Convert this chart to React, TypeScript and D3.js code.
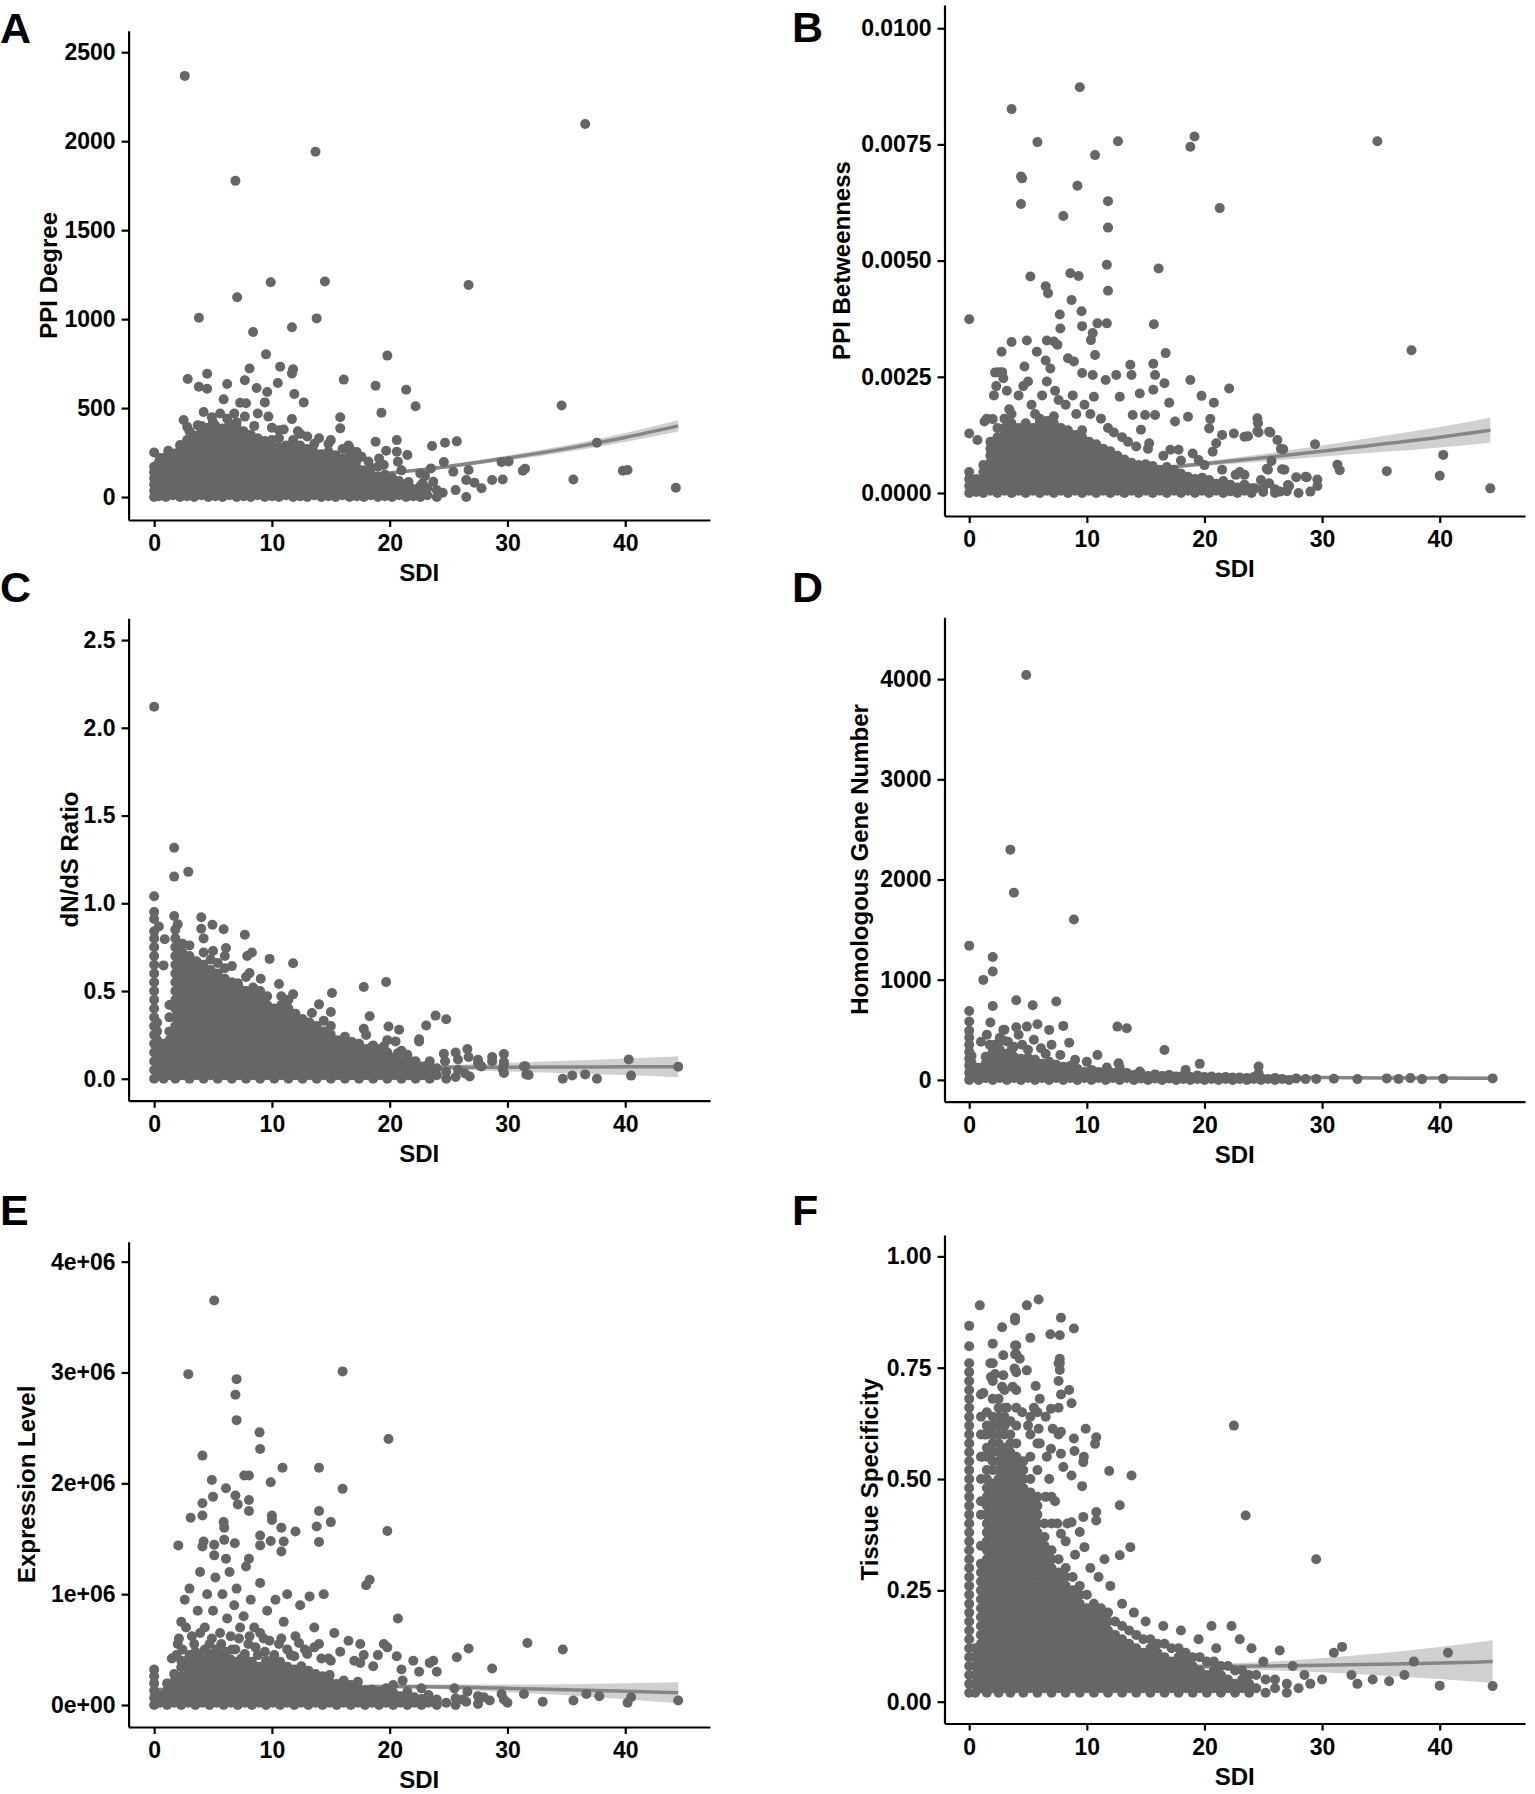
import * as d3 from "d3";
import { useEffect, useRef } from "react";

// shared x axis
const sdiTicks = [0, 10, 20, 30, 40];
const sdiLabels = ["0", "10", "20", "30", "40"];

// ---------- A: PPI Degree ----------
const degreeTicks = [0, 500, 1000, 1500, 2000, 2500];
const degreeLabels = ["0", "500", "1000", "1500", "2000", "2500"];
// dense cloud, one column per SDI value: [sdi, degree, degree, ...]
const degreeCloud = [
  [0, 0, 35, 70, 105, 140, 170, 250],
  [0.4, 5, 45, 85, 125, 165, 195],
  [1.0, 0, 40, 80, 120, 160, 200, 225],
  [1.6, 10, 50, 90, 130, 170, 210, 245],
  [2.2, 0, 40, 80, 120, 160, 200, 240, 265, 292],
  [2.8, 5, 45, 85, 125, 165, 205, 245, 285, 320],
  [3.4, 0, 40, 80, 120, 160, 200, 240, 280, 320, 345],
  [4.0, 10, 50, 90, 130, 170, 210, 250, 290, 330, 365],
  [4.6, 0, 40, 80, 120, 160, 200, 240, 280, 320, 360, 390],
  [5.2, 5, 45, 85, 125, 165, 205, 245, 285, 325, 365, 400],
  [5.8, 0, 40, 80, 120, 160, 200, 240, 280, 320, 360, 385],
  [6.4, 10, 50, 90, 130, 170, 210, 250, 290, 330, 370, 410],
  [7.0, 0, 40, 80, 120, 160, 200, 240, 280, 320, 360, 395],
  [7.6, 5, 45, 85, 125, 165, 205, 245, 285, 325, 370],
  [8.2, 0, 40, 80, 120, 160, 200, 240, 280, 320, 350],
  [8.8, 10, 50, 90, 130, 170, 210, 250, 290, 330],
  [9.4, 0, 40, 80, 120, 160, 200, 240, 280, 315],
  [10.0, 5, 45, 85, 125, 165, 205, 245, 285, 320],
  [10.6, 0, 40, 80, 120, 160, 200, 240, 280, 330, 375],
  [11.2, 10, 50, 90, 130, 170, 210, 250, 290],
  [11.8, 0, 40, 80, 120, 160, 200, 240, 280, 320],
  [12.4, 5, 45, 85, 125, 165, 205, 245, 290, 355],
  [13.0, 0, 40, 80, 120, 160, 200, 240, 270],
  [13.6, 10, 50, 90, 130, 170, 210, 250, 300],
  [14.2, 0, 40, 80, 120, 160, 200, 240],
  [14.8, 5, 45, 85, 125, 165, 205, 255, 300],
  [15.4, 0, 40, 80, 120, 160, 200, 235],
  [16.0, 10, 50, 90, 130, 170, 215, 270],
  [16.6, 0, 40, 80, 120, 160, 195, 240],
  [17.2, 5, 45, 85, 125, 165, 205],
  [17.8, 0, 40, 80, 120, 150],
  [18.4, 10, 50, 90, 130, 165],
  [19.0, 0, 40, 80, 115, 170],
  [19.6, 5, 45, 85, 125],
  [20.2, 0, 40, 80, 110],
  [20.8, 10, 50, 90],
  [21.4, 0, 40, 70],
  [22.0, 5, 45],
  [22.6, 0, 30, 60],
  [23.2, 10, 50],
  [24.0, 0, 40],
];
const degreeOutliers = [
  [2.6, 2367], [36.6, 2097], [13.7, 1941], [6.9, 1777], [9.9, 1207], [14.5, 1211], [26.7, 1192],
  [7.05, 1123], [3.8, 1008], [13.8, 1004], [11.7, 954], [8.4, 928], [9.5, 802], [19.8, 795],
  [8.1, 722], [10.7, 733], [11.8, 718], [11.7, 695], [4.5, 693], [2.85, 663], [6.2, 635],
  [7.7, 656], [10.5, 641], [16.1, 660], [18.8, 626], [21.4, 603], [3.8, 620], [4.5, 609],
  [8.7, 613], [9.6, 590], [11.9, 579], [22.2, 510], [34.6, 515], [12.7, 532], [9.4, 532],
  [7.3, 530], [7.8, 527], [5.9, 549], [5.6, 470], [6.8, 470], [7.7, 452], [8.8, 470],
  [9.7, 452], [11.7, 438], [15.8, 448], [19.3, 474], [15.8, 386], [2.5, 433], [2.8, 395],
  [3.7, 403], [4.2, 478], [4.9, 448], [37.6, 305], [25.7, 313], [24.7, 305], [23.6, 287],
  [20.6, 320], [18.8, 311], [35.6, 99], [29.5, 197], [24.6, 197], [23.5, 161], [31.5, 159],
  [31.3, 148], [29.6, 99], [28.7, 96], [27.8, 49], [26.5, 0], [25.6, 39], [26.5, 96],
  [26.7, 152], [27.2, 81], [25.4, 142], [24.5, 24], [22.6, 133], [21.5, 236], [20.7, 199],
  [19.7, 260], [17.2, 253], [16.6, 274], [17.6, 227], [19.1, 217], [16.7, 152], [20.6, 255],
  [21.6, 84], [22.8, 77], [23.7, 86], [39.8, 148], [40.2, 152], [44.3, 52], [30.1, 200],
  [6.2, 440], [7.0, 420], [8.5, 400], [10.0, 390], [11.0, 380], [12.2, 370], [13.0, 340],
  [14.0, 330], [15.0, 320], [3.0, 370], [4.0, 400], [5.0, 420], [1.2, 260], [0.5, 220],
  [16.5, 290], [18.2, 200], [19.5, 180], [21.0, 150], [23.0, 120],
];
// fitted trend: [sdi, fit, half width of band]
const degreeSmooth = [
  [0, 55, 5], [5, 68, 4], [10, 84, 4], [15, 105, 5], [20, 135, 7],
  [25, 172, 10], [30, 219, 14], [35, 272, 19], [40, 335, 25], [44.5, 400, 31],
];

// ---------- B: PPI Betweenness ----------
const betweenTicks = [0, 0.0025, 0.005, 0.0075, 0.01];
const betweenLabels = ["0.0000", "0.0025", "0.0050", "0.0075", "0.0100"];
const betweenCloud = [
  [0.0, 0, 0.00015, 0.0003, 0.00045],
  [0.6, 0.00002, 0.00016, 0.0003],
  [1.2, 0, 0.00015, 0.0003, 0.00045, 0.0006],
  [1.8, 0.00005, 0.0002, 0.00035, 0.0005, 0.00065, 0.0008, 0.00095, 0.0011],
  [2.4, 0, 0.00015, 0.0003, 0.00045, 0.0006, 0.00075, 0.0009, 0.00105, 0.0012, 0.0014],
  [3.0, 0.00005, 0.0002, 0.00035, 0.0005, 0.00065, 0.0008, 0.00095, 0.0011, 0.00125, 0.0014, 0.0016],
  [3.6, 0, 0.00015, 0.0003, 0.00045, 0.0006, 0.00075, 0.0009, 0.00105, 0.0012, 0.00135, 0.0015, 0.0017],
  [4.2, 0.00005, 0.0002, 0.00035, 0.0005, 0.00065, 0.0008, 0.00095, 0.0011, 0.00125, 0.0014],
  [4.8, 0, 0.00015, 0.0003, 0.00045, 0.0006, 0.00075, 0.0009, 0.00105, 0.0012, 0.00135, 0.0015],
  [5.4, 0.00005, 0.0002, 0.00035, 0.0005, 0.00065, 0.0008, 0.00095, 0.0011, 0.00125, 0.0014],
  [6.0, 0, 0.00015, 0.0003, 0.00045, 0.0006, 0.00075, 0.0009, 0.00105, 0.0012, 0.00135, 0.0015, 0.0016],
  [6.6, 0.00005, 0.0002, 0.00035, 0.0005, 0.00065, 0.0008, 0.00095, 0.0011, 0.00125, 0.0014, 0.00155],
  [7.2, 0, 0.00015, 0.0003, 0.00045, 0.0006, 0.00075, 0.0009, 0.00105, 0.0012, 0.00135, 0.0015, 0.00165],
  [7.8, 0.00005, 0.0002, 0.00035, 0.0005, 0.00065, 0.0008, 0.00095, 0.0011, 0.00125, 0.0014],
  [8.4, 0, 0.00015, 0.0003, 0.00045, 0.0006, 0.00075, 0.0009, 0.00105, 0.0012, 0.00135],
  [9.0, 0.00005, 0.0002, 0.00035, 0.0005, 0.00065, 0.0008, 0.00095, 0.0011, 0.00125],
  [9.6, 0, 0.00015, 0.0003, 0.00045, 0.0006, 0.00075, 0.0009, 0.00105, 0.0012, 0.00135],
  [10.2, 0.00005, 0.0002, 0.00035, 0.0005, 0.00065, 0.0008, 0.00095, 0.0011],
  [10.8, 0, 0.00015, 0.0003, 0.00045, 0.0006, 0.00075, 0.0009, 0.00105],
  [11.4, 0.00005, 0.0002, 0.00035, 0.0005, 0.00065, 0.0008, 0.00095],
  [12.0, 0, 0.00015, 0.0003, 0.00045, 0.0006, 0.00075, 0.0009],
  [12.6, 0.00005, 0.0002, 0.00035, 0.0005, 0.00065, 0.0008],
  [13.2, 0, 0.00015, 0.0003, 0.00045, 0.0006, 0.00072],
  [13.8, 0.00005, 0.0002, 0.00035, 0.0005, 0.00065],
  [14.4, 0, 0.00015, 0.0003, 0.00045, 0.0006],
  [15.0, 0.00005, 0.0002, 0.00035, 0.0005, 0.00062],
  [15.6, 0, 0.00015, 0.0003, 0.00045, 0.00058],
  [16.2, 0.00005, 0.0002, 0.00035, 0.0005],
  [16.8, 0, 0.00015, 0.0003, 0.00045, 0.00056],
  [17.4, 0.00005, 0.0002, 0.00035, 0.0005],
  [18.0, 0, 0.00015, 0.0003, 0.00042],
  [18.6, 0.00005, 0.0002, 0.00035],
  [19.2, 0, 0.00015, 0.0003],
  [19.8, 0.00005, 0.0002, 0.00033],
  [20.4, 0, 0.00015, 0.00028],
  [21.0, 0.00005, 0.0002],
  [21.6, 0, 0.00015, 0.00026],
  [22.2, 0.00004, 0.00018],
  [22.8, 0, 0.00012],
  [23.4, 0.00005, 0.00018],
  [24.0, 0, 0.0001],
  [25.0, 0.00002, 0.00012],
  [26.0, 0, 0.00008],
  [27.0, 0.00004],
  [28.0, 0],
  [29.0, 0.00003],
];
const betweenOutliers = [
  [9.4, 0.00873], [3.6, 0.00826], [5.8, 0.00755], [12.65, 0.00757], [10.7, 0.00727], [18.8, 0.00745],
  [19.15, 0.00767], [4.4, 0.00681], [4.5, 0.00677], [9.2, 0.00661], [4.4, 0.00622], [11.8, 0.00628],
  [21.3, 0.00613], [8.0, 0.00596], [11.8, 0.00571], [11.7, 0.00491], [16.1, 0.00483], [8.6, 0.00473],
  [9.3, 0.00467], [5.2, 0.00466], [6.5, 0.00445], [6.7, 0.0043], [11.8, 0.00435], [8.7, 0.00415],
  [0, 0.00374], [7.7, 0.00384], [9.55, 0.00391], [15.7, 0.00363], [9.6, 0.00359], [10.9, 0.00365],
  [11.7, 0.00365], [7.75, 0.00354], [10.5, 0.00344], [10.35, 0.00329], [3.6, 0.00325], [4.9, 0.00328],
  [6.6, 0.00328], [7.2, 0.00326], [7.5, 0.00319], [2.75, 0.00304], [5.75, 0.00304], [10.7, 0.00297],
  [16.7, 0.00301], [6.5, 0.00285], [4.7, 0.00272], [6.9, 0.00268], [8.4, 0.0029], [8.9, 0.00283],
  [13.7, 0.00276], [15.65, 0.00278], [9.6, 0.00258], [10.5, 0.00254], [12.5, 0.00254], [11.6, 0.00243],
  [13.8, 0.00254], [15.8, 0.00254], [16.6, 0.00236], [18.8, 0.00243], [22.1, 0.00225], [2.2, 0.00259],
  [2.9, 0.00247], [14.5, 0.00214], [15.65, 0.00222], [19.75, 0.00209], [20.8, 0.00194], [17.0, 0.00194],
  [10.6, 0.00207], [12.8, 0.00207], [0, 0.00128], [0.7, 0.00114], [1.3, 0.00154], [2.0, 0.00159],
  [13.9, 0.00168], [14.95, 0.00168], [15.8, 0.00168], [17.5, 0.00154], [18.6, 0.00164], [20.5, 0.00159],
  [20.4, 0.00139], [24.5, 0.00161], [24.55, 0.0015], [21.5, 0.00125], [22.5, 0.00128], [23.4, 0.00121],
  [24.6, 0.0013], [25.6, 0.0013], [26.2, 0.00114], [26.7, 0.00094], [29.4, 0.00105], [21.0, 0.00107],
  [20.7, 0.00089], [25.7, 0.00069], [25.4, 0.0005], [26.8, 0.0005], [27.8, 0.00034], [28.7, 0.00034],
  [29.6, 0.00015], [24.8, 0.00028], [23.4, 0.00039], [22.65, 0.00039], [26.4, 0.00003], [27.1, 0.00017],
  [25.5, 0.00021], [24.3, 0.0001], [17.1, 0.00093], [19.5, 0.00071], [17.8, 0.00093], [14.6, 0.00136],
  [15.3, 0.00107], [34.7, 0.00757], [37.6, 0.00307], [44.3, 0.0001], [40.3, 0.00082], [40.0, 0.00037],
  [35.5, 0.00047], [31.5, 0.00049], [31.3, 0.00061], [29.6, 0.00029], [28.6, 0.00035], [27.2, 0.00015],
  [26.6, 0.00051], [26.5, 0.00095], [25.5, 0.00132], [24.5, 0.00133], [25.3, 0.00052], [23.7, 0.00122],
  [1.5, 0.0016], [2.1, 0.0021], [2.3, 0.0023], [2.5, 0.0026], [2.8, 0.0026], [3.2, 0.0022], [3.4, 0.0018],
  [4.2, 0.0021], [4.6, 0.0023], [5.0, 0.0024], [5.3, 0.0019], [5.6, 0.0017], [6.2, 0.0021], [6.6, 0.0024],
  [7.3, 0.0022], [7.6, 0.002], [8.2, 0.0019], [8.8, 0.0021], [9.1, 0.0017], [9.8, 0.0019], [10.3, 0.0017],
  [11.2, 0.0016], [11.8, 0.0014], [12.3, 0.0013], [13.0, 0.0012], [13.5, 0.0011], [14.2, 0.001],
  [15.2, 0.00095], [16.5, 0.0008], [18.0, 0.0007], [19.0, 0.00085], [20.0, 0.0006], [21.5, 0.0005],
  [23.0, 0.00045],
];
const betweenSmooth = [
  [0, 0.00005, 0.00003], [5, 0.0002, 0.00002], [10, 0.00035, 0.00002], [15, 0.0005, 0.00003],
  [20, 0.00063, 0.00005], [25, 0.00076, 0.00008], [30, 0.0009, 0.00012], [35, 0.00105, 0.00017],
  [40, 0.0012, 0.00022], [44.3, 0.00135, 0.00027],
];

// ---------- C: dN/dS Ratio ----------
const dndsTicks = [0, 0.5, 1, 1.5, 2, 2.5];
const dndsLabels = ["0.0", "0.5", "1.0", "1.5", "2.0", "2.5"];
const dndsCloud = [
  [0.0, 0, 0.05, 0.1, 0.15, 0.2, 0.25, 0.3, 0.35, 0.4, 0.45, 0.5, 0.55, 0.6, 0.65, 0.7, 0.75, 0.8, 0.84],
  [0.25, 0.02, 0.07, 0.12, 0.17, 0.22, 0.27, 0.32],
  [0.8, 0, 0.05, 0.1, 0.15, 0.2],
  [1.3, 0.02, 0.07, 0.12, 0.17, 0.22, 0.27, 0.35, 0.42],
  [1.8, 0, 0.05, 0.1, 0.15, 0.2, 0.25, 0.3, 0.35, 0.4, 0.45, 0.5, 0.55, 0.6, 0.65, 0.7, 0.75, 0.8, 0.85],
  [2.4, 0.02, 0.07, 0.12, 0.17, 0.22, 0.27, 0.32, 0.37, 0.42, 0.47, 0.52, 0.57, 0.62, 0.67, 0.72, 0.77],
  [3.0, 0, 0.05, 0.1, 0.15, 0.2, 0.25, 0.3, 0.35, 0.4, 0.45, 0.5, 0.55, 0.6, 0.65, 0.7, 0.76],
  [3.6, 0.02, 0.07, 0.12, 0.17, 0.22, 0.27, 0.32, 0.37, 0.42, 0.47, 0.52, 0.57, 0.62, 0.67],
  [4.2, 0, 0.05, 0.1, 0.15, 0.2, 0.25, 0.3, 0.35, 0.4, 0.45, 0.5, 0.55, 0.6, 0.65, 0.72, 0.8],
  [4.8, 0.02, 0.07, 0.12, 0.17, 0.22, 0.27, 0.32, 0.37, 0.42, 0.47, 0.52, 0.57, 0.62, 0.68],
  [5.4, 0, 0.05, 0.1, 0.15, 0.2, 0.25, 0.3, 0.35, 0.4, 0.45, 0.5, 0.55, 0.6, 0.66],
  [6.0, 0.02, 0.07, 0.12, 0.17, 0.22, 0.27, 0.32, 0.37, 0.42, 0.47, 0.52, 0.57, 0.63, 0.7],
  [6.6, 0, 0.05, 0.1, 0.15, 0.2, 0.25, 0.3, 0.35, 0.4, 0.45, 0.5, 0.55],
  [7.2, 0.02, 0.07, 0.12, 0.17, 0.22, 0.27, 0.32, 0.37, 0.42, 0.47, 0.52],
  [7.8, 0, 0.05, 0.1, 0.15, 0.2, 0.25, 0.3, 0.35, 0.4, 0.45, 0.5, 0.58],
  [8.4, 0.02, 0.07, 0.12, 0.17, 0.22, 0.27, 0.32, 0.37, 0.42, 0.47, 0.52],
  [9.0, 0, 0.05, 0.1, 0.15, 0.2, 0.25, 0.3, 0.35, 0.4, 0.45, 0.5],
  [9.6, 0.02, 0.07, 0.12, 0.17, 0.22, 0.27, 0.32, 0.37, 0.42, 0.47],
  [10.2, 0, 0.05, 0.1, 0.15, 0.2, 0.25, 0.3, 0.35, 0.4],
  [10.8, 0.02, 0.07, 0.12, 0.17, 0.22, 0.27, 0.32, 0.37, 0.42, 0.47],
  [11.4, 0, 0.05, 0.1, 0.15, 0.2, 0.25, 0.3, 0.35, 0.4, 0.45],
  [12.0, 0.02, 0.07, 0.12, 0.17, 0.22, 0.27, 0.32, 0.37],
  [12.6, 0, 0.05, 0.1, 0.15, 0.2, 0.25, 0.3, 0.34],
  [13.2, 0.02, 0.07, 0.12, 0.17, 0.22, 0.27, 0.32],
  [13.8, 0, 0.05, 0.1, 0.15, 0.2, 0.25, 0.3],
  [14.4, 0.02, 0.07, 0.12, 0.17, 0.22, 0.27, 0.33],
  [15.0, 0, 0.05, 0.1, 0.15, 0.2, 0.25, 0.3, 0.38],
  [15.6, 0.02, 0.07, 0.12, 0.17, 0.22],
  [16.2, 0, 0.05, 0.1, 0.15, 0.2, 0.24],
  [16.8, 0.02, 0.07, 0.12, 0.17, 0.21],
  [17.4, 0, 0.05, 0.1, 0.15, 0.2],
  [18.0, 0.02, 0.07, 0.12, 0.17, 0.25],
  [18.6, 0, 0.05, 0.1, 0.15, 0.19],
  [19.2, 0.02, 0.07, 0.12, 0.17],
  [19.8, 0, 0.05, 0.1, 0.15, 0.22],
  [20.4, 0.02, 0.07, 0.12],
  [21.0, 0, 0.05, 0.1, 0.16],
  [21.6, 0.02, 0.07, 0.11],
  [22.2, 0, 0.05, 0.1],
  [22.8, 0.02, 0.07],
  [23.4, 0, 0.05, 0.1],
  [24.0, 0.02, 0.06],
  [24.8, 0, 0.04],
  [25.6, 0.01],
  [26.4, 0.03],
];
const dndsOutliers = [
  [0, 2.12], [1.7, 1.316], [1.7, 1.152], [2.9, 1.179], [0, 1.04], [0, 0.95], [0, 0.91], [1.7, 0.928],
  [4.0, 0.92], [2.0, 0.88], [4.95, 0.878], [5.9, 0.852], [4.0, 0.855], [0.4, 0.868], [7.7, 0.821],
  [0.9, 0.795], [5.0, 0.728], [6.1, 0.745], [8.3, 0.72], [7.9, 0.7], [9.8, 0.683], [11.8, 0.658],
  [0.8, 0.646], [6.6, 0.642], [8.1, 0.602], [9.05, 0.57], [10.6, 0.54], [7.1, 0.545], [19.7, 0.551],
  [17.8, 0.523], [15.1, 0.489], [11.8, 0.481], [14.0, 0.424], [13.4, 0.375], [18.3, 0.356],
  [23.9, 0.36], [24.8, 0.339], [23.1, 0.304], [19.9, 0.298], [20.8, 0.279], [17.8, 0.285],
  [26.6, 0.169], [25.6, 0.15], [24.6, 0.143], [28.7, 0.124], [29.7, 0.141], [27.5, 0.108],
  [27.7, 0.074], [29.6, 0.055], [31.4, 0.07], [31.6, 0.025], [34.7, 0], [35.5, 0.019], [36.6, 0.025],
  [37.6, 0], [22.5, 0.213], [20.5, 0.213], [18.5, 0.184], [19.5, 0.184], [16.7, 0.207], [20.7, 0.146],
  [21.5, 0.137], [23.3, 0.08], [25.8, 0.051], [26.8, 0.013], [22.5, 0.225], [40.3, 0.11], [40.5, 0.018],
  [44.5, 0.069], [29.7, 0.08], [29.7, 0.095], [29.7, 0.033], [28.7, 0.1], [27.5, 0.09], [27.8, 0.07],
  [26.7, 0.124], [25.8, 0.11], [24.7, 0.1], [31.8, 0.021], [31.5, 0.072],
];
const dndsSmooth = [
  [0, 0.06, 0.004], [5, 0.061, 0.004], [10, 0.062, 0.004], [15, 0.063, 0.005], [20, 0.064, 0.008],
  [25, 0.065, 0.014], [30, 0.066, 0.024], [35, 0.067, 0.035], [40, 0.068, 0.047], [44.5, 0.069, 0.06],
];

// ---------- D: Homologous Gene Number ----------
const homologTicks = [0, 1000, 2000, 3000, 4000];
const homologLabels = ["0", "1000", "2000", "3000", "4000"];
const homologCloud = [
  [0.0, 0, 70, 140, 210, 280, 350, 420, 490],
  [0.2, 30, 100, 170, 240],
  [0.8, 0, 60, 120],
  [1.4, 20, 90, 160, 230],
  [2.0, 0, 70, 140, 210, 280],
  [2.6, 20, 90, 160, 230, 300],
  [3.2, 0, 70, 140, 210, 260],
  [3.8, 20, 90, 160, 230, 330],
  [4.4, 0, 70, 140, 210],
  [5.0, 20, 90, 160, 220],
  [5.6, 0, 70, 140, 200],
  [6.2, 20, 90, 160],
  [6.8, 0, 70, 140, 180],
  [7.4, 20, 90, 150],
  [8.0, 0, 70, 130],
  [8.6, 20, 90, 140],
  [9.2, 0, 70, 110],
  [9.8, 20, 80],
  [10.4, 0, 60, 100],
  [11.0, 20, 80],
  [11.6, 0, 60],
  [12.2, 20, 70],
  [12.8, 0, 50, 120],
  [13.4, 20, 70],
  [14.0, 0, 50],
  [14.6, 15, 60],
  [15.2, 0, 40],
  [15.8, 15, 55],
  [16.4, 0, 40],
  [17.0, 15, 50],
  [17.6, 0, 35],
  [18.2, 10, 45],
  [18.8, 0, 30],
  [19.4, 10, 45],
  [20.0, 0, 30],
  [20.6, 10, 35],
  [21.2, 0, 25],
  [21.8, 10, 30],
  [22.4, 0, 25],
  [23.0, 10, 25],
  [23.6, 0, 20],
  [24.2, 10, 30],
  [24.8, 0, 20],
  [25.4, 10],
  [26.0, 0, 20],
  [26.6, 10],
  [27.2, 0],
  [27.8, 15],
  [28.6, 8],
  [29.5, 10],
];
const homologOutliers = [
  [4.85, 4041], [3.5, 2298], [3.8, 1869], [8.9, 1600], [0, 1340], [2.0, 1227], [2.0, 1081], [1.2, 998],
  [4.0, 795], [5.4, 745], [7.4, 782], [2.0, 738], [0, 688], [0, 582], [1.8, 572], [5.8, 555], [8.0, 539],
  [12.6, 532], [13.4, 515], [4.9, 532], [4.0, 525], [2.9, 499], [6.8, 499],
  [1.0, 380], [1.5, 450], [2.2, 350], [2.6, 420], [3.0, 500], [3.3, 380], [3.6, 300], [4.2, 450],
  [4.5, 350], [5.0, 300], [5.5, 400], [6.1, 316], [6.5, 260], [7.0, 350], [7.75, 249], [8.5, 372],
  [9.0, 200], [10.0, 180], [10.9, 249], [11.7, 123], [12.7, 166], [14.5, 83], [16.6, 299], [18.4, 100],
  [19.6, 160], [24.6, 133], [24.6, 67], [2.9, 392], [1.75, 352],
  [31.0, 12], [33.0, 8], [35.5, 15], [36.5, 10], [37.5, 18], [38.5, 8], [40.3, 12], [44.5, 15],
];
const homologSmooth = [
  [0, 60, 5], [5, 50, 4], [10, 42, 3], [15, 35, 3], [20, 30, 4],
  [25, 26, 6], [30, 23, 8], [35, 20, 11], [40, 18, 14], [44.5, 16, 18],
];

// ---------- E: Expression Level ----------
const exprTicks = [0, 1e6, 2e6, 3e6, 4e6];
const exprLabels = ["0e+00", "1e+06", "2e+06", "3e+06", "4e+06"];
const exprCloud = [
  [0, 0, 65e3, 130e3, 195e3, 260e3, 320e3],
  [0.5, 20e3, 85e3],
  [1.1, 0, 65e3, 130e3, 195e3],
  [1.7, 20e3, 85e3, 150e3, 215e3, 280e3],
  [2.3, 0, 65e3, 130e3, 195e3, 260e3, 340e3, 400e3],
  [2.9, 20e3, 85e3, 150e3, 215e3, 280e3, 345e3, 410e3],
  [3.5, 0, 65e3, 130e3, 195e3, 260e3, 325e3, 390e3, 450e3],
  [4.1, 20e3, 85e3, 150e3, 215e3, 280e3, 345e3, 410e3],
  [4.7, 0, 65e3, 130e3, 195e3, 260e3, 325e3, 400e3, 460e3],
  [5.3, 20e3, 85e3, 150e3, 215e3, 280e3, 345e3, 410e3],
  [5.9, 0, 65e3, 130e3, 195e3, 260e3, 325e3, 380e3, 450e3],
  [6.5, 20e3, 85e3, 150e3, 215e3, 280e3, 345e3, 410e3],
  [7.1, 0, 65e3, 130e3, 195e3, 260e3, 325e3, 390e3],
  [7.7, 20e3, 85e3, 150e3, 215e3, 280e3, 350e3, 420e3],
  [8.3, 0, 65e3, 130e3, 195e3, 260e3, 325e3, 390e3],
  [8.9, 20e3, 85e3, 150e3, 215e3, 280e3, 345e3],
  [9.5, 0, 65e3, 130e3, 195e3, 260e3, 330e3, 400e3],
  [10.1, 20e3, 85e3, 150e3, 215e3, 280e3, 340e3],
  [10.7, 0, 65e3, 130e3, 195e3, 260e3, 320e3, 390e3],
  [11.3, 20e3, 85e3, 150e3, 215e3, 280e3, 345e3],
  [11.9, 0, 65e3, 130e3, 195e3, 260e3, 320e3],
  [12.5, 20e3, 85e3, 150e3, 215e3, 290e3, 350e3],
  [13.1, 0, 65e3, 130e3, 195e3, 250e3, 310e3],
  [13.7, 20e3, 85e3, 150e3, 215e3, 280e3],
  [14.3, 0, 65e3, 130e3, 195e3, 260e3],
  [14.9, 20e3, 85e3, 150e3, 210e3, 270e3],
  [15.5, 0, 65e3, 130e3, 190e3],
  [16.1, 20e3, 85e3, 150e3, 220e3],
  [16.7, 0, 65e3, 130e3, 180e3],
  [17.3, 20e3, 85e3, 150e3, 210e3],
  [17.9, 0, 65e3, 130e3],
  [18.5, 20e3, 85e3, 140e3],
  [19.1, 0, 65e3, 120e3],
  [19.7, 20e3, 85e3, 150e3],
  [20.3, 0, 65e3, 110e3, 180e3],
  [20.9, 20e3, 80e3],
  [21.5, 0, 60e3, 120e3],
  [22.1, 20e3, 70e3],
  [22.7, 0, 55e3, 150e3],
  [23.3, 20e3, 90e3],
  [24.0, 0, 50e3],
  [24.8, 20e3],
  [25.6, 0, 60e3],
  [26.5, 30e3],
  [27.5, 10e3],
  [28.5, 40e3],
  [30.0, 20e3],
  [33.0, 30e3],
];
const exprOutliers = [
  [5.1, 3.65e6], [2.9, 2.985e6], [16.0, 3.01e6], [7.0, 2.94e6], [6.9, 2.8e6], [7.0, 2.57e6],
  [8.95, 2.46e6], [19.9, 2.4e6], [9.0, 2.31e6], [4.1, 2.25e6], [10.9, 2.14e6], [14.0, 2.14e6],
  [7.65, 2.07e6], [8.05, 2.07e6], [4.9, 2.03e6], [9.9, 2.01e6], [16.0, 1.95e6], [6.1, 1.955e6],
  [6.9, 1.89e6], [5.0, 1.88e6], [8.05, 1.85e6], [4.1, 1.82e6], [7.1, 1.81e6], [8.05, 1.75e6],
  [14.0, 1.75e6], [3.1, 1.69e6], [4.1, 1.71e6], [10.0, 1.71e6], [10.0, 1.67e6], [15.0, 1.65e6],
  [5.9, 1.65e6], [5.95, 1.6e6], [10.8, 1.6e6], [13.8, 1.61e6], [19.8, 1.57e6], [12.0, 1.565e6],
  [5.95, 1.49e6], [9.0, 1.53e6], [9.0, 1.44e6], [9.9, 1.48e6], [11.0, 1.475e6], [14.0, 1.47e6],
  [2.05, 1.44e6], [4.1, 1.43e6], [4.2, 1.475e6], [5.1, 1.445e6], [6.85, 1.46e6], [5.1, 1.35e6],
  [6.1, 1.32e6], [8.05, 1.32e6], [10.8, 1.385e6],
  [1.5, 0.42e6], [2.0, 0.55e6], [2.3, 0.75e6], [2.6, 0.95e6], [3.0, 1.05e6], [3.2, 0.62e6],
  [3.5, 0.48e6], [3.7, 0.85e6], [3.9, 1.2e6], [4.1, 0.4e6], [4.3, 0.7e6], [4.5, 1.0e6], [4.7, 0.55e6],
  [5.0, 0.85e6], [5.2, 1.15e6], [5.4, 0.45e6], [5.6, 0.65e6], [5.8, 1.0e6], [6.0, 0.38e6],
  [6.2, 0.78e6], [6.4, 1.2e6], [6.6, 0.5e6], [6.8, 0.9e6], [7.0, 1.05e6], [7.2, 0.6e6], [7.4, 0.42e6],
  [7.6, 0.8e6], [7.8, 1.25e6], [8.0, 0.55e6], [8.2, 0.95e6], [8.5, 0.7e6], [8.8, 0.45e6], [9.0, 1.1e6],
  [9.3, 0.6e6], [9.6, 0.85e6], [10.0, 0.4e6], [10.3, 0.95e6], [10.6, 0.55e6], [11.0, 0.75e6],
  [11.3, 1.0e6], [11.6, 0.45e6], [12.0, 0.62e6], [12.4, 0.9e6], [12.8, 0.5e6], [13.2, 0.98e6],
  [13.6, 0.7e6], [14.0, 0.55e6], [14.4, 1.0e6], [14.8, 0.42e6], [15.3, 0.65e6], [15.8, 0.48e6],
  [16.5, 0.58e6], [17.0, 0.4e6], [17.5, 0.55e6], [18.0, 1.08e6], [18.3, 1.13e6], [18.6, 0.35e6],
  [19.0, 0.45e6], [19.8, 0.52e6], [20.6, 0.44e6], [20.7, 0.78e6], [21.0, 0.32e6], [22.0, 0.4e6],
  [23.7, 0.4e6], [24.0, 0.3e6], [25.7, 0.43e6], [26.7, 0.51e6], [28.7, 0.33e6], [29.7, 0.05e6],
  [29.5, 0.1e6], [31.4, 0.1e6], [31.7, 0.56e6], [34.7, 0.5e6], [35.6, 0.04e6], [36.7, 0.1e6],
  [37.8, 0.08e6], [40.2, 0.02e6], [40.5, 0.07e6], [44.5, 0.04e6], [27.5, 0.08e6], [28.0, 0.07e6],
  [26.2, 0.05e6], [25.5, 0.15e6], [26.6, 0.12e6],
  [1.9, 0.45e6], [2.1, 0.6e6], [2.4, 0.5e6], [2.7, 0.7e6], [3.0, 0.45e6], [3.4, 0.55e6], [3.8, 0.45e6],
  [3.9, 0.65e6], [4.3, 0.5e6], [4.6, 0.42e6], [4.9, 0.6e6], [5.3, 0.5e6], [5.7, 0.55e6], [6.1, 0.48e6],
  [6.5, 0.62e6], [6.9, 0.5e6], [7.3, 0.7e6], [7.7, 0.46e6], [8.1, 0.62e6], [8.6, 0.52e6], [9.0, 0.65e6],
  [9.4, 0.48e6], [9.8, 0.58e6], [10.2, 0.45e6], [10.8, 0.6e6], [11.3, 0.5e6], [11.9, 0.44e6],
  [12.3, 0.56e6], [13.0, 0.46e6], [13.6, 0.52e6], [14.2, 0.42e6], [15.0, 0.4e6], [17.5, 0.38e6],
  [17.8, 0.45e6], [19.5, 0.55e6], [21.1, 0.22e6], [22.5, 0.3e6], [23.4, 0.38e6],
];
const exprSmooth = [
  [0, 140e3, 8e3], [5, 150e3, 7e3], [10, 158e3, 7e3], [15, 165e3, 9e3], [20, 167e3, 14e3],
  [25, 162e3, 22e3], [30, 150e3, 34e3], [35, 138e3, 50e3], [40, 124e3, 72e3], [44.5, 110e3, 95e3],
];

// ---------- F: Tissue Specificity ----------
const tissueTicks = [0, 0.25, 0.5, 0.75, 1];
const tissueLabels = ["0.00", "0.25", "0.50", "0.75", "1.00"];
const tissueCloud = [
  [0.0, 0.02, 0.04, 0.06, 0.08, 0.1, 0.12, 0.14, 0.16, 0.18, 0.2, 0.22, 0.24, 0.26, 0.28, 0.3, 0.32, 0.34, 0.36, 0.38, 0.4, 0.42, 0.44, 0.46, 0.48, 0.5, 0.52, 0.54, 0.56, 0.58, 0.6, 0.62, 0.64, 0.66, 0.68, 0.7, 0.72, 0.74, 0.76],
  [0.5, 0.02, 0.04, 0.06, 0.08, 0.1, 0.12],
  [1.0, 0.03, 0.05, 0.07, 0.09, 0.11, 0.13, 0.15, 0.17, 0.19, 0.21, 0.23, 0.25, 0.27, 0.29, 0.31, 0.35, 0.42, 0.45, 0.5, 0.55, 0.6, 0.64, 0.69],
  [1.5, 0.02, 0.04, 0.06, 0.08, 0.1, 0.12, 0.14, 0.16, 0.18, 0.2, 0.22, 0.24, 0.26, 0.28, 0.3, 0.32, 0.34, 0.36, 0.38, 0.4, 0.42, 0.44, 0.46, 0.48, 0.5, 0.52, 0.55, 0.57, 0.6, 0.62, 0.65],
  [2.0, 0.03, 0.05, 0.07, 0.09, 0.11, 0.13, 0.15, 0.17, 0.19, 0.21, 0.23, 0.25, 0.27, 0.29, 0.31, 0.33, 0.35, 0.37, 0.39, 0.41, 0.43, 0.45, 0.47, 0.49, 0.52, 0.54, 0.56, 0.58, 0.6, 0.62, 0.64, 0.68, 0.72, 0.76],
  [2.5, 0.02, 0.04, 0.06, 0.08, 0.1, 0.12, 0.14, 0.16, 0.18, 0.2, 0.22, 0.24, 0.26, 0.28, 0.3, 0.32, 0.34, 0.36, 0.38, 0.4, 0.42, 0.44, 0.46, 0.48, 0.5, 0.52, 0.54, 0.56, 0.58, 0.6, 0.62, 0.64, 0.66],
  [3.0, 0.03, 0.05, 0.07, 0.09, 0.11, 0.13, 0.15, 0.17, 0.19, 0.21, 0.23, 0.25, 0.27, 0.29, 0.31, 0.33, 0.35, 0.37, 0.39, 0.41, 0.43, 0.45, 0.47, 0.49, 0.51, 0.53, 0.55, 0.57, 0.6, 0.62, 0.64, 0.66, 0.7],
  [3.5, 0.02, 0.04, 0.06, 0.08, 0.1, 0.12, 0.14, 0.16, 0.18, 0.2, 0.22, 0.24, 0.26, 0.28, 0.3, 0.32, 0.34, 0.36, 0.38, 0.4, 0.42, 0.44, 0.46, 0.48, 0.5, 0.52, 0.54, 0.56, 0.58, 0.6, 0.63],
  [4.0, 0.03, 0.05, 0.07, 0.09, 0.11, 0.13, 0.15, 0.17, 0.19, 0.21, 0.23, 0.25, 0.27, 0.29, 0.31, 0.33, 0.35, 0.37, 0.39, 0.41, 0.43, 0.45, 0.47, 0.49, 0.51, 0.53, 0.55, 0.58, 0.62, 0.66, 0.7, 0.74, 0.78, 0.8],
  [4.6, 0.02, 0.04, 0.06, 0.08, 0.1, 0.12, 0.14, 0.16, 0.18, 0.2, 0.22, 0.24, 0.26, 0.28, 0.3, 0.32, 0.34, 0.36, 0.38, 0.4, 0.42, 0.44, 0.46, 0.48, 0.5, 0.52, 0.54],
  [5.2, 0.03, 0.05, 0.07, 0.09, 0.11, 0.13, 0.15, 0.17, 0.19, 0.21, 0.23, 0.25, 0.27, 0.29, 0.31, 0.33, 0.35, 0.37, 0.39, 0.41, 0.43, 0.45, 0.47, 0.5, 0.55, 0.6, 0.64],
  [5.8, 0.02, 0.04, 0.06, 0.08, 0.1, 0.12, 0.14, 0.16, 0.18, 0.2, 0.22, 0.24, 0.26, 0.28, 0.3, 0.32, 0.34, 0.36, 0.38, 0.4, 0.42, 0.44, 0.46, 0.52, 0.58, 0.65],
  [6.4, 0.03, 0.05, 0.07, 0.09, 0.11, 0.13, 0.15, 0.17, 0.19, 0.21, 0.23, 0.25, 0.27, 0.29, 0.31, 0.33, 0.35, 0.37, 0.4],
  [7.0, 0.02, 0.04, 0.06, 0.08, 0.1, 0.12, 0.14, 0.16, 0.18, 0.2, 0.22, 0.24, 0.26, 0.28, 0.3, 0.32, 0.34, 0.4, 0.46],
  [7.6, 0.03, 0.05, 0.07, 0.09, 0.11, 0.13, 0.15, 0.17, 0.19, 0.21, 0.23, 0.25, 0.27, 0.29, 0.32, 0.6, 0.66, 0.72, 0.76],
  [8.2, 0.02, 0.04, 0.06, 0.08, 0.1, 0.12, 0.14, 0.16, 0.18, 0.2, 0.22, 0.24, 0.26, 0.28, 0.3],
  [8.8, 0.03, 0.05, 0.07, 0.09, 0.11, 0.13, 0.15, 0.17, 0.19, 0.21, 0.23, 0.25, 0.28],
  [9.4, 0.02, 0.04, 0.06, 0.08, 0.1, 0.12, 0.14, 0.16, 0.18, 0.2, 0.22, 0.24, 0.26],
  [10.0, 0.03, 0.05, 0.07, 0.09, 0.11, 0.13, 0.15, 0.17, 0.19, 0.21, 0.24],
  [10.6, 0.02, 0.04, 0.06, 0.08, 0.1, 0.12, 0.14, 0.16, 0.18, 0.2, 0.22],
  [11.2, 0.03, 0.05, 0.07, 0.09, 0.11, 0.13, 0.15, 0.17, 0.19, 0.21],
  [11.8, 0.02, 0.04, 0.06, 0.08, 0.1, 0.12, 0.14, 0.16, 0.18, 0.2],
  [12.4, 0.03, 0.05, 0.07, 0.09, 0.11, 0.13, 0.15, 0.18],
  [13.0, 0.02, 0.04, 0.06, 0.08, 0.1, 0.12, 0.14, 0.17],
  [13.6, 0.03, 0.05, 0.07, 0.09, 0.11, 0.13, 0.16],
  [14.2, 0.02, 0.04, 0.06, 0.08, 0.1, 0.12, 0.15],
  [14.8, 0.03, 0.05, 0.07, 0.09, 0.11, 0.14],
  [15.4, 0.02, 0.04, 0.06, 0.08, 0.1, 0.12, 0.14],
  [16.0, 0.03, 0.05, 0.07, 0.09, 0.11, 0.13],
  [16.6, 0.02, 0.04, 0.06, 0.08, 0.1, 0.13],
  [17.2, 0.03, 0.05, 0.07, 0.09, 0.12],
  [17.8, 0.02, 0.04, 0.06, 0.08, 0.1, 0.12],
  [18.4, 0.03, 0.05, 0.07, 0.09, 0.11],
  [19.0, 0.02, 0.04, 0.06, 0.08, 0.1],
  [19.6, 0.03, 0.05, 0.07, 0.1],
  [20.2, 0.02, 0.04, 0.06, 0.09],
  [20.8, 0.03, 0.05, 0.07, 0.09],
  [21.4, 0.02, 0.04, 0.06, 0.08],
  [22.0, 0.03, 0.05, 0.08],
  [22.6, 0.02, 0.04, 0.07],
  [23.2, 0.03, 0.05, 0.07],
  [23.8, 0.02, 0.04, 0.06],
  [24.4, 0.03, 0.06],
  [25.2, 0.02, 0.05],
  [26.0, 0.03, 0.05],
  [27.0, 0.02, 0.04],
  [28.0, 0.03],
  [29.0, 0.04],
];
const tissueOutliers = [
  [0.9, 0.89], [5.9, 0.903], [4.9, 0.89], [0, 0.844], [2.8, 0.841], [3.9, 0.862], [3.9, 0.856],
  [7.8, 0.862], [8.9, 0.838], [0, 0.798], [2.0, 0.804], [5.2, 0.817], [6.9, 0.825], [7.7, 0.823],
  [2.9, 0.778], [3.9, 0.8], [3.9, 0.78], [4.3, 0.77], [7.7, 0.77], [7.7, 0.76], [7.7, 0.745],
  [4.9, 0.744], [3.85, 0.748], [1.8, 0.76], [1.85, 0.729], [2.2, 0.736], [2.9, 0.733], [5.65, 0.709],
  [3.7, 0.707], [2.8, 0.707], [8.5, 0.7], [1.2, 0.693], [7.8, 0.69], [8.7, 0.67], [6.95, 0.658],
  [22.5, 0.62], [9.9, 0.613], [5.9, 0.613], [7.1, 0.613], [7.8, 0.606], [10.8, 0.594], [8.9, 0.591],
  [10.7, 0.579], [6.95, 0.568], [7.8, 0.557], [8.95, 0.563], [9.75, 0.55], [9.7, 0.538], [8.0, 0.527],
  [8.7, 0.508], [11.9, 0.518], [13.8, 0.508], [9.6, 0.484], [12.8, 0.441], [23.5, 0.418], [9.7, 0.415],
  [10.8, 0.426], [10.8, 0.407], [8.35, 0.4], [8.7, 0.403], [9.4, 0.381], [7.8, 0.377], [9.8, 0.347],
  [13.7, 0.347], [12.8, 0.329], [29.5, 0.32],
  [2.5, 0.68], [3.2, 0.66], [4.5, 0.65], [5.0, 0.62], [5.5, 0.66], [6.0, 0.68], [6.5, 0.64],
  [6.0, 0.58], [6.6, 0.55], [3.0, 0.62], [1.3, 0.6], [1.1, 0.55], [6.8, 0.5], [7.3, 0.45], [7.5, 0.4],
  [6.5, 0.46], [8.2, 0.36], [9.0, 0.33], [10.3, 0.3], [11.0, 0.28], [11.5, 0.32], [12.0, 0.26],
  [13.0, 0.22], [14.0, 0.2], [15.0, 0.18], [16.5, 0.17], [18.0, 0.16], [19.5, 0.14], [21.0, 0.12],
  [22.3, 0.17], [20.6, 0.17], [25.0, 0.09], [26.4, 0.115], [24.0, 0.12], [23.0, 0.14], [31.0, 0.11],
  [31.7, 0.123], [34.3, 0.05], [35.7, 0.046], [37.0, 0.06], [37.8, 0.09], [40.0, 0.036], [40.7, 0.11],
  [44.5, 0.035], [27.5, 0.08], [28.5, 0.06], [30.0, 0.05], [32.5, 0.06], [33.0, 0.04],
];
const tissueSmooth = [
  [0, 0.075, 0.003], [5, 0.076, 0.002], [10, 0.077, 0.002], [15, 0.078, 0.003], [20, 0.079, 0.005],
  [25, 0.08, 0.009], [30, 0.082, 0.016], [35, 0.084, 0.025], [40, 0.087, 0.036], [44.5, 0.09, 0.048],
];

const FONT = "'Liberation Sans', Arial, Helvetica, sans-serif";
const POINT = "#666666";

const panels = [
  {
    letter: "A", lx: 0, ly: 43, title: "PPI Degree", tx: 57,
    xr: [128.6, 710], xd: [-2.17, 47.2], yr: [520, 30.7], yd: [-129, 2621],
    yTicks: degreeTicks, yLabels: degreeLabels,
    cloud: degreeCloud, outliers: degreeOutliers, smooth: degreeSmooth,
  },
  {
    letter: "B", lx: 792, ly: 42, title: "PPI Betweenness", tx: 850,
    xr: [944.5, 1525], xd: [-2.1, 47.25], yr: [516, 5], yd: [-0.000495, 0.0105],
    yTicks: betweenTicks, yLabels: betweenLabels,
    cloud: betweenCloud, outliers: betweenOutliers, smooth: betweenSmooth,
  },
  {
    letter: "C", lx: 0, ly: 602, title: "dN/dS Ratio", tx: 78,
    xr: [128.6, 710], xd: [-2.17, 47.2], yr: [1100.7, 618.3], yd: [-0.125, 2.624],
    yTicks: dndsTicks, yLabels: dndsLabels,
    cloud: dndsCloud, outliers: dndsOutliers, smooth: dndsSmooth,
  },
  {
    letter: "D", lx: 792, ly: 602, title: "Homologous Gene Number", tx: 868,
    xr: [944.5, 1525], xd: [-2.1, 47.25], yr: [1101.7, 617.3], yd: [-217.6, 4617],
    yTicks: homologTicks, yLabels: homologLabels,
    cloud: homologCloud, outliers: homologOutliers, smooth: homologSmooth,
  },
  {
    letter: "E", lx: 0, ly: 1225, title: "Expression Level", tx: 35,
    xr: [128.6, 710], xd: [-2.17, 47.2], yr: [1727, 1241.7], yd: [-0.1985e6, 4.18e6],
    yTicks: exprTicks, yLabels: exprLabels,
    cloud: exprCloud, outliers: exprOutliers, smooth: exprSmooth,
  },
  {
    letter: "F", lx: 792, ly: 1225, title: "Tissue Specificity", tx: 878,
    xr: [944.5, 1525], xd: [-2.1, 47.25], yr: [1723.5, 1235], yd: [-0.049, 1.048],
    yTicks: tissueTicks, yLabels: tissueLabels,
    cloud: tissueCloud, outliers: tissueOutliers, smooth: tissueSmooth,
  },
];

function drawPanel(svg: any, p: any) {
  const x = d3.scaleLinear().domain(p.xd).range(p.xr);
  const y = d3.scaleLinear().domain(p.yd).range(p.yr);
  const g = svg.append("g");

  // trend band and line go under the points
  const band = d3.area<number[]>()
    .x(d => x(d[0]))
    .y0(d => y(d[1] - d[2]))
    .y1(d => y(d[1] + d[2]))
    .curve(d3.curveMonotoneX);
  g.append("path").attr("d", band(p.smooth)).attr("fill", "#c8c8c8").attr("opacity", 0.85);
  const trend = d3.line<number[]>()
    .x(d => x(d[0]))
    .y(d => y(d[1]))
    .curve(d3.curveMonotoneX);
  g.append("path").attr("d", trend(p.smooth))
    .attr("fill", "none").attr("stroke", "#858585").attr("stroke-width", 3.5);

  const pts = [
    ...p.cloud.flatMap(([sx, ...vals]: number[]) => vals.map(v => [sx, v])),
    ...p.outliers,
  ];
  g.append("g").selectAll("circle")
    .data(pts)
    .join("circle")
    .attr("cx", (d: number[]) => x(d[0]))
    .attr("cy", (d: number[]) => y(d[1]))
    .attr("r", 5)
    .attr("fill", POINT);

  const xAxis = d3.axisBottom(x)
    .tickValues(sdiTicks)
    .tickFormat((_d, i) => sdiLabels[i])
    .tickSize(7).tickSizeOuter(0).tickPadding(8);
  const yAxis = d3.axisLeft(y)
    .tickValues(p.yTicks)
    .tickFormat((_d, i) => p.yLabels[i])
    .tickSize(7).tickSizeOuter(0).tickPadding(6);

  for (const [axis, tr] of [[xAxis, `translate(0,${p.yr[0]})`], [yAxis, `translate(${p.xr[0]},0)`]] as any) {
    const ag = g.append("g").attr("transform", tr).call(axis);
    ag.attr("font-size", 23).attr("font-family", FONT).attr("font-weight", "bold");
    ag.selectAll("path, line").attr("stroke", "#000").attr("stroke-width", 2.2);
    ag.selectAll("text").attr("fill", "#000");
  }

  g.append("text")
    .attr("x", (p.xr[0] + p.xr[1]) / 2).attr("y", p.yr[0] + 61)
    .attr("text-anchor", "middle")
    .attr("font-family", FONT).attr("font-weight", "bold").attr("font-size", 24)
    .text("SDI");

  g.append("text")
    .attr("transform", `translate(${p.tx},${(p.yr[0] + p.yr[1]) / 2}) rotate(-90)`)
    .attr("text-anchor", "middle")
    .attr("font-family", FONT).attr("font-weight", "bold").attr("font-size", 24)
    .text(p.title);

  g.append("text")
    .attr("x", p.lx).attr("y", p.ly)
    .attr("font-family", FONT).attr("font-weight", "bold").attr("font-size", 43)
    .text(p.letter);
}

export default function App() {
  const svgRef = useRef<SVGSVGElement>(null);
  useEffect(() => {
    const svg = d3.select(svgRef.current);
    svg.selectAll("*").remove();
    panels.forEach(p => drawPanel(svg, p));
  }, []);

  return (
    <svg
      ref={svgRef}
      width={1535}
      height={1794}
      style={{ position: "absolute", left: 0, top: 0, background: "#fff" }}
    />
  );
}
